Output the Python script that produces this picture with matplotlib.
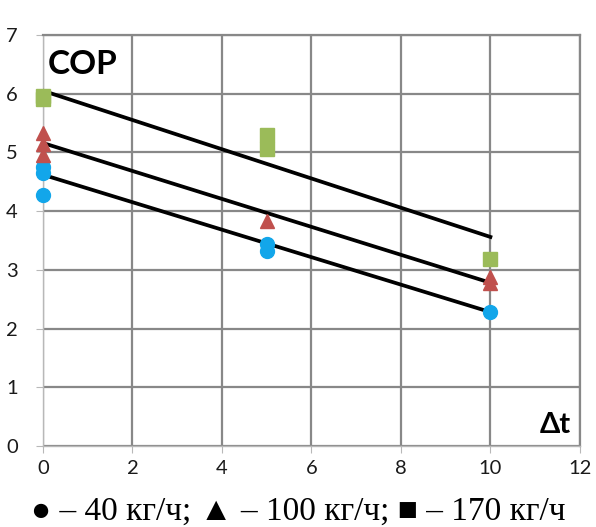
import matplotlib
matplotlib.use("Agg")
import matplotlib.pyplot as plt

plt.rcParams['font.family'] = ['Lato', 'DejaVu Sans']

# COP vs temperature difference for three flow rates
x_40 = [0, 0, 0, 5, 5, 10]
cop_40 = [4.75, 4.65, 4.28, 3.44, 3.32, 2.28]

x_100 = [0, 0, 0, 5, 10, 10]
cop_100 = [5.33, 5.15, 4.96, 3.83, 2.88, 2.78]

x_170 = [0, 0, 5, 5, 10]
cop_170 = [5.96, 5.91, 5.30, 5.06, 3.19]

# trend lines (ends at dt = 0 and dt = 10)
trend_x = [0, 10]
trend_40 = [4.62, 2.28]
trend_100 = [5.16, 2.78]
trend_170 = [6.05, 3.56]

x_ticks = [0, 2, 4, 6, 8, 10, 12]
y_ticks = [0, 1, 2, 3, 4, 5, 6, 7]

fig = plt.figure(figsize=(5.96, 5.27), dpi=100)
ax = fig.add_axes([0.072, 0.1537, 0.901, 0.78])

grid_col = '#888888'
ax.set_xlim(0, 12)
ax.set_ylim(0, 7)
ax.set_xticks(x_ticks)
ax.set_yticks(y_ticks)
ax.grid(True, color=grid_col, linewidth=1.6)
ax.set_axisbelow(True)
for s in ['top', 'right']:
    ax.spines[s].set_color(grid_col)
    ax.spines[s].set_linewidth(1.6)
for s in ['left', 'bottom']:
    ax.spines[s].set_color('#b8b8b8')
    ax.spines[s].set_linewidth(1.0)
ax.tick_params(axis='both', direction='out', length=5, color='#b8b8b8',
               labelsize=14.5, labelcolor='#1a1a1a')
ax.tick_params(axis='x', pad=5)
ax.tick_params(axis='y', pad=13)

for ty in (trend_40, trend_100, trend_170):
    ax.plot(trend_x, ty, color='black', linewidth=2.7, zorder=3)

ax.plot(x_40, cop_40, 'o', color='#12a6ea', markersize=10, zorder=4, clip_on=False)
ax.plot(x_100, cop_100, '^', color='#c0504d', markersize=10.5, zorder=4, clip_on=False)
ax.plot(x_170, cop_170, 's', color='#9bbb59', markersize=10, zorder=4, clip_on=False)

ax.text(0.009, 0.905, 'COP', transform=ax.transAxes, fontsize=24,
        fontweight='bold', ha='left', va='baseline')
ax.text(0.983, 0.032, 'Δt', transform=ax.transAxes, fontsize=21,
        fontweight='bold', ha='right', va='baseline')

fig.text(0.5, 0.03, '● – 40 кг/ч; ▲ – 100 кг/ч; ■ – 170 кг/ч',
         family=['Liberation Serif', 'DejaVu Serif'], fontsize=24,
         ha='center', va='center')

fig.savefig('out.png', dpi=100)
